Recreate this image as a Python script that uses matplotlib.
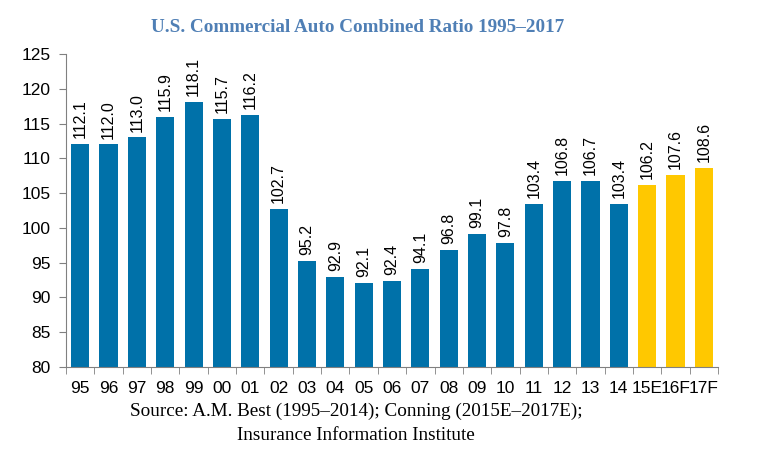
import matplotlib
matplotlib.use("Agg")
import matplotlib.pyplot as plt
import numpy as np

YEARS = ["95", "96", "97", "98", "99", "00", "01", "02", "03", "04", "05", "06",
         "07", "08", "09", "10", "11", "12", "13", "14", "15E", "16F", "17F"]
RATIOS = [112.1, 112.0, 113.0, 115.9, 118.1, 115.7, 116.2, 102.7, 95.2, 92.9, 92.1, 92.4,
          94.1, 96.8, 99.1, 97.8, 103.4, 106.8, 106.7, 103.4, 106.2, 107.6, 108.6]
IS_FORECAST = [False] * 20 + [True] * 3

BLUE = "#0071a9"
YELLOW = "#ffc800"

fig = plt.figure(figsize=(7.57, 4.49), dpi=100)
ax = fig.add_axes([0.0872, 0.1826, 0.8613, 0.6971])

x = np.arange(len(YEARS))
colors = [YELLOW if f else BLUE for f in IS_FORECAST]
bars = ax.bar(x, [r - 80 for r in RATIOS], bottom=80, width=0.64, color=colors)

for xi, r in zip(x, RATIOS):
    ax.text(xi, r + 0.85, f"{r:.1f}", rotation=90, ha="center", va="bottom",
            fontsize=11.5, family="Liberation Sans")

ax.set_xlim(-0.5, len(YEARS) - 0.5)
ax.set_ylim(80, 125)
ax.set_yticks(range(80, 126, 5))
ax.set_xticks(x)
ax.set_xticklabels(YEARS)
ax.set_xticks(np.arange(-0.5, len(YEARS), 1), minor=True)
ax.tick_params(axis="x", which="major", length=0, pad=10)
ax.tick_params(axis="x", which="minor", length=5, direction="out", color="#808080")
ax.tick_params(axis="y", length=5, direction="out", color="#808080", pad=6)
for lab in ax.get_xticklabels() + ax.get_yticklabels():
    lab.set_family("Liberation Sans")
    lab.set_fontsize(12.5)

for side in ["top", "right"]:
    ax.spines[side].set_visible(False)
for side in ["left", "bottom"]:
    ax.spines[side].set_color("#808080")

fig.text(0.472, 0.938, "U.S. Commercial Auto Combined Ratio 1995\u20132017",
         ha="center", va="center", fontsize=13.8, fontweight="bold",
         family="Liberation Serif", color="#4f7fb5")
fig.text(0.471, 0.083, "Source: A.M. Best (1995\u20132014); Conning (2015E\u20132017E);",
         ha="center", va="center", fontsize=13.8, family="Liberation Serif")
fig.text(0.470, 0.029, "Insurance Information Institute",
         ha="center", va="center", fontsize=13.8, family="Liberation Serif")

fig.savefig("out.png", dpi=100)
